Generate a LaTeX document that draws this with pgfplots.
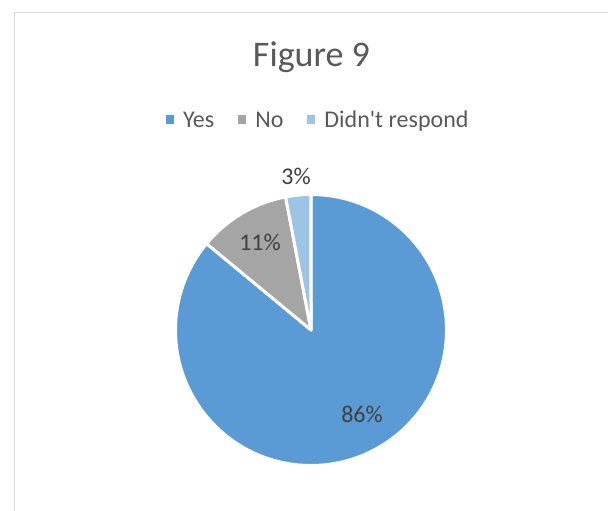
\documentclass[border=0pt]{standalone}
\usepackage{fontspec}
\setmainfont{Carlito}[Ligatures=TeXOff]
\usepackage{pgfplots}
\usepackage{pgfplotstable}
\pgfplotsset{compat=1.18}
\definecolor{cYes}{HTML}{5B9BD5}
\definecolor{cNo}{HTML}{A5A5A5}
\definecolor{cDR}{HTML}{9DC3E6}
\definecolor{ctitle}{HTML}{595959}
\definecolor{clabel}{HTML}{404040}
\definecolor{cframe}{HTML}{D9D9D9}

\pgfplotstableread{
label value
Yes 86
No 11
DR 3
}\piedata
\pgfplotstablegetelem{0}{value}\of\piedata \let\vA\pgfplotsretval
\pgfplotstablegetelem{1}{value}\of\piedata \let\vB\pgfplotsretval
\pgfplotstablegetelem{2}{value}\of\piedata \let\vC\pgfplotsretval
\pgfmathsetmacro\total{\vA+\vB+\vC}
\pgfmathsetmacro\aA{90}
\pgfmathsetmacro\aB{\aA-360*(\vA/\total)}
\pgfmathsetmacro\aC{\aB-360*(\vB/\total)}
\pgfmathsetmacro\aD{\aC-360*(\vC/\total)}

\begin{document}
\begin{tikzpicture}
\begin{axis}[
  scale only axis, width=608bp, height=511bp,
  xmin=0, xmax=608, ymin=0, ymax=511, y dir=reverse,
  hide axis, clip=false,
  legend columns=3,
  legend style={draw=none, fill=none, inner sep=0pt, outer sep=0pt,
    at={(axis cs:166,119.5)}, anchor=west,
    font=\fontsize{24bp}{28bp}\selectfont, text=ctitle,
    nodes={inner sep=0pt, text height=15.5bp, text depth=0pt},
    /tikz/every odd column/.append style={column sep=9bp},
    /tikz/every even column/.append style={column sep=24bp}},
  legend image code/.code={\fill[#1] (0bp,-4.5bp) rectangle (8bp,4.5bp);},
]
\addlegendimage{fill=cYes, draw=none}
\addlegendentry{Yes}
\addlegendimage{fill=cNo, draw=none}
\addlegendentry{No}
\addlegendimage{fill=cDR, draw=none}
\addlegendentry{Didn't respond}

\fill[cYes, draw=white, line width=3bp, line join=round] (axis cs:311,330) -- ++(\aA:135.5bp) arc[start angle=\aA, end angle=\aB, radius=135.5bp] -- cycle;
\fill[cNo, draw=white, line width=3bp, line join=round] (axis cs:311,330) -- ++(\aB:135.5bp) arc[start angle=\aB, end angle=\aC, radius=135.5bp] -- cycle;
\fill[cDR, draw=white, line width=3bp, line join=round] (axis cs:311,330) -- ++(\aC:135.5bp) arc[start angle=\aC, end angle=\aD, radius=135.5bp] -- cycle;

\node[anchor=base, text=clabel, font=\fontsize{24bp}{28bp}\selectfont, inner sep=0pt] at (axis cs:362,422.3) {86\%};
\node[anchor=base, text=clabel, font=\fontsize{24bp}{28bp}\selectfont, inner sep=0pt] at (axis cs:260,250.7) {11\%};
\node[anchor=base, text=clabel, font=\fontsize{24bp}{28bp}\selectfont, inner sep=0pt] at (axis cs:296,184) {3\%};

\node[anchor=base, text=ctitle, font=\fontsize{36bp}{43bp}\selectfont, inner sep=0pt] at (axis cs:311.5,66.7) {Figure 9};

\draw[cframe, line width=1.3bp] (axis cs:14.5,511) -- (axis cs:14.5,12.5) -- (axis cs:608,12.5);
\end{axis}
\pgfresetboundingbox
\path[use as bounding box] (current axis.south west) rectangle (current axis.north east);
\end{tikzpicture}
\end{document}
